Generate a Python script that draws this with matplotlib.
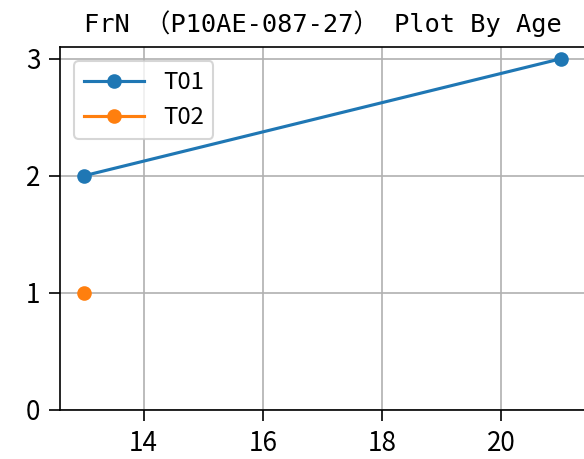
import matplotlib
matplotlib.use("Agg")
import matplotlib.pyplot as plt

plt.rcParams['font.family'] = ['Noto Sans CJK JP', 'DejaVu Sans']

title = "FrN （P10AE-087-27） Plot By Age"
series_names = ["T01", "T02"]
t01_age = [13, 21]
t01_val = [2, 3]
t02_age = [13]
t02_val = [1]
yticks = [0, 1, 2, 3]

dpi = 150
fig = plt.figure(figsize=(584 / dpi, 459 / dpi), dpi=dpi)
ax = fig.add_axes([60 / 584, 1 - 410 / 459, 525 / 584, 363 / 459])

ax.plot(t01_age, t01_val, marker='o', label=series_names[0])
ax.plot(t02_age, t02_val, marker='o', label=series_names[1])
ax.set_ylim(bottom=0)
ax.set_yticks(yticks)
ax.tick_params(length=5.5, labelsize=12.5, pad=4)
ax.grid(True)
ax.legend(loc='upper left', fontsize=11.5, handlelength=2.5, borderaxespad=0.6)
ax.set_title(title, family=['DejaVu Sans Mono', 'Noto Sans CJK JP'], fontsize=12.2, pad=7)

fig.savefig("out.png", dpi=dpi)
